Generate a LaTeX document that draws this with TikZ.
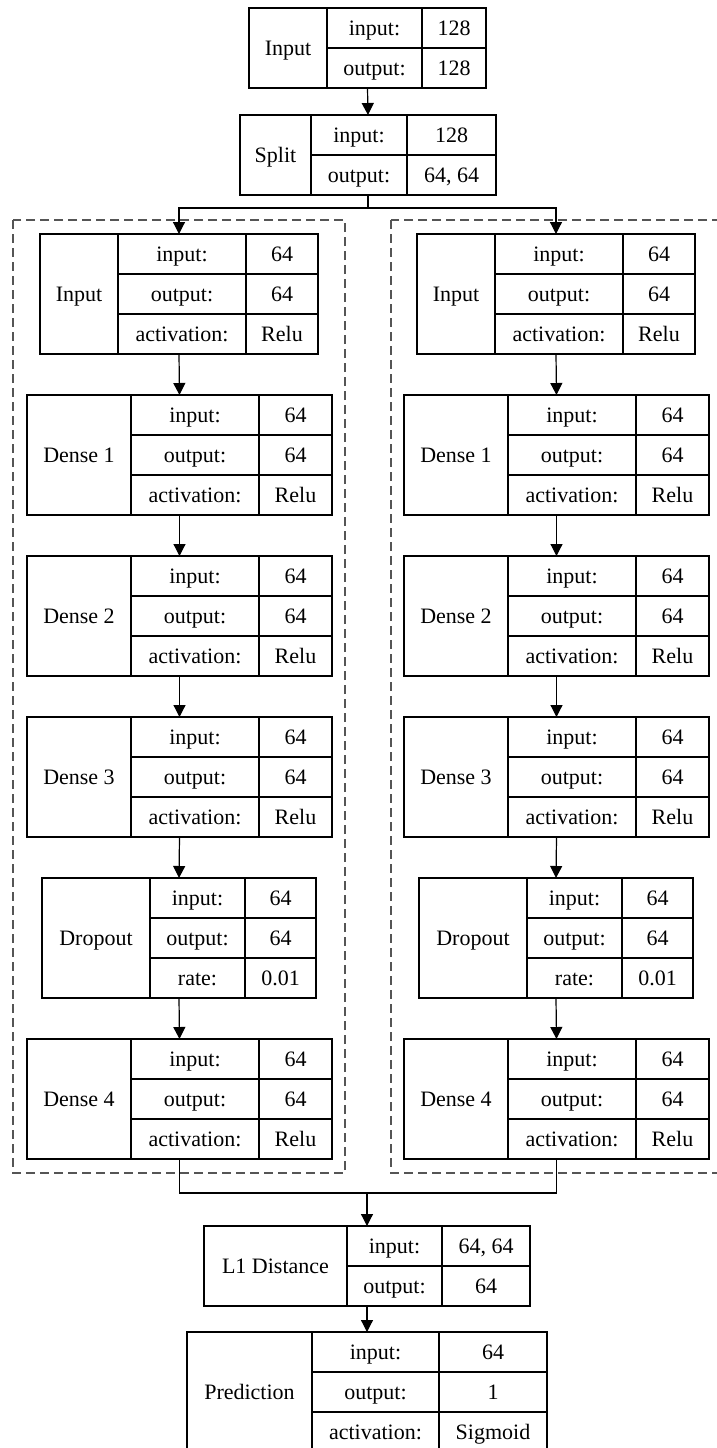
\documentclass[tikz,border=0pt]{standalone}
\usepackage{fontspec}
\setmainfont{Liberation Serif}
\usetikzlibrary{arrows.meta}

\definecolor{clustergray}{RGB}{85,85,85}

\tikzset{
  rec/.style={draw, inner sep=0pt, outer sep=0pt},
  txt/.style={font=\fontsize{22}{26}\selectfont, inner sep=0pt, text height=14.8pt, text depth=0pt},
  arr/.style={-{Triangle[length=12pt,width=12pt]}},
  cluster/.style={draw=clustergray, line width=1.3pt, dash pattern=on 9pt off 5pt}
}

% record box: name, left, top, widths of the three columns, rows, label
\newcommand{\nnlayer}[8]{%
  \node[rec, minimum width={#4+#5+#6}, minimum height={40*#7}, anchor=north west] (#1) at ({#2},{#3}) {};
  \node[txt] (#1-lab) at ({#2+#4/2},{#3+20*#7}) {#8};
  \draw ({#2+#4},{#3}) -- ++(0,{40*#7});
  \draw ({#2+#4+#5},{#3}) -- ++(0,{40*#7});
  \def\rx{#2}\def\ry{#3}\def\wa{#4}\def\wb{#5}\def\wc{#6}\def\rn{#1}}

% one row of a record: row, key, value
\newcommand{\nnfield}[3]{%
  \node[txt] (\rn-k#1) at ({\rx+\wa+\wb/2},{\ry+40*#1-20}) {#2};
  \node[txt] (\rn-v#1) at ({\rx+\wa+\wb+\wc/2},{\ry+40*#1-20}) {#3};
  \ifnum#1>1 \draw ({\rx+\wa},{\ry+40*#1-40}) -- ++({\wb+\wc},0);\fi}

\begin{document}
\begin{tikzpicture}[x=1pt, y=-1pt, line width=1.2pt]
\useasboundingbox (0,0) rectangle (716,1448);

\draw[cluster] (13,220) rectangle (345,1173);
\draw[cluster] (391,220) rectangle (730,1173);

\nnlayer{in}{249}{8}{78}{95}{64}{2}{Input}
\nnfield{1}{input:}{128}
\nnfield{2}{output:}{128}

\nnlayer{split}{240}{115}{71}{96}{89}{2}{Split}
\nnfield{1}{input:}{128}
\nnfield{2}{output:}{64, 64}

\draw[arr] (in.south) -- (split.north);

\foreach \s/\dx in {L/0, R/377}{
  \nnlayer{in\s}{40+\dx}{234}{78}{128}{72}{3}{Input}
  \nnfield{1}{input:}{64}
  \nnfield{2}{output:}{64}
  \nnfield{3}{activation:}{Relu}

  \foreach \n/\t in {1/395, 2/556, 3/717}{
    \nnlayer{d\n\s}{27+\dx}{\t}{104}{128}{73}{3}{Dense \n}
    \nnfield{1}{input:}{64}
    \nnfield{2}{output:}{64}
    \nnfield{3}{activation:}{Relu}
  }

  \nnlayer{drop\s}{42+\dx}{878}{108}{95}{71}{3}{Dropout}
  \nnfield{1}{input:}{64}
  \nnfield{2}{output:}{64}
  \nnfield{3}{rate:}{0.01}

  \nnlayer{d4\s}{27+\dx}{1039}{104}{128}{73}{3}{Dense 4}
  \nnfield{1}{input:}{64}
  \nnfield{2}{output:}{64}
  \nnfield{3}{activation:}{Relu}

  \draw[arr] (in\s.south) -- (d1\s.north);
  \draw[arr] (d1\s.south) -- (d2\s.north);
  \draw[arr] (d2\s.south) -- (d3\s.north);
  \draw[arr] (d3\s.south) -- (drop\s.north);
  \draw[arr] (drop\s.south) -- (d4\s.north);
}

\nnlayer{l1}{204}{1226}{143}{95}{88}{2}{L1 Distance}
\nnfield{1}{input:}{64, 64}
\nnfield{2}{output:}{64}

\nnlayer{pred}{187}{1332}{125}{127}{108}{3}{Prediction}
\nnfield{1}{input:}{64}
\nnfield{2}{output:}{1}
\nnfield{3}{activation:}{Sigmoid}

\path (split.south) ++(0,13) coordinate (fork);
\draw (split.south) -- (fork);
\draw[arr] (fork) -| (inL.north);
\draw[arr] (fork) -| (inR.north);

\path (l1.north) ++(0,-33) coordinate (join);
\draw (d4L.south) |- (join);
\draw (d4R.south) |- (join);
\draw[arr] (join) -- (l1.north);
\draw[arr] (l1.south) -- (pred.north);

\end{tikzpicture}
\end{document}
